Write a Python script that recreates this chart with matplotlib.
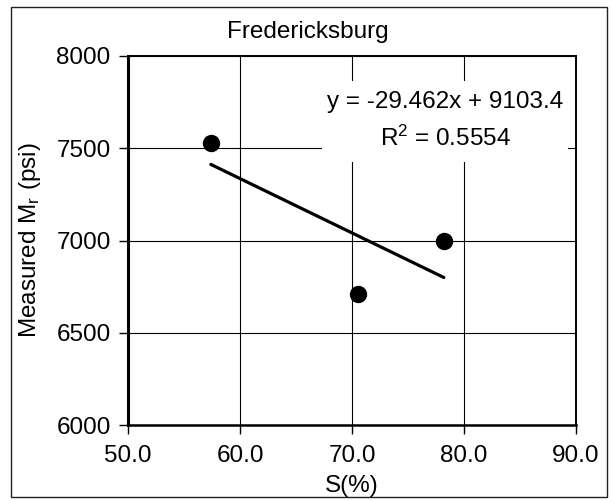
import matplotlib
matplotlib.use("Agg")
import matplotlib.pyplot as plt
from matplotlib.patches import Rectangle
import numpy as np

plt.rcParams["font.family"] = ["Liberation Sans", "DejaVu Sans"]
plt.rcParams["mathtext.fontset"] = "custom"
plt.rcParams["mathtext.rm"] = "Liberation Sans"
plt.rcParams["mathtext.it"] = "Liberation Sans:italic"

# Measured data
saturation = [57.4, 70.5, 78.2]          # S (%)
modulus = [7527, 6710, 6995]             # measured Mr (psi)

# Linear trend line reported on the chart
slope = -29.462
intercept = 9103.4
r_squared = 0.5554

x_ticks = [50.0, 60.0, 70.0, 80.0, 90.0]
y_ticks = [6000, 6500, 7000, 7500, 8000]

title = "Fredericksburg"
x_label = "S(%)"
y_label = "Measured M$_\\mathrm{r}$ (psi)"

W, H = 612, 501
fig = plt.figure(figsize=(W / 100, H / 100), dpi=100)
ax = fig.add_axes([128 / W, 1 - 425 / H, (576 - 128) / W, (425 - 56) / H])

fs = 17.5

ax.set_xlim(x_ticks[0], x_ticks[-1])
ax.set_ylim(y_ticks[0], y_ticks[-1])
ax.set_xticks(x_ticks)
ax.set_yticks(y_ticks)
ax.set_xticklabels([f"{v:.1f}" for v in x_ticks], fontsize=fs)
ax.set_yticklabels([f"{v}" for v in y_ticks], fontsize=fs)
ax.tick_params(direction="out", length=6.5, width=1.0, color="black", pad=6)
ax.tick_params(axis="x", pad=8)

ax.grid(True, color="black", linewidth=0.8, zorder=0)
ax.set_axisbelow(True)

for side, lw in (("left", 2.2), ("bottom", 1.8), ("top", 1.4), ("right", 1.4)):
    ax.spines[side].set_linewidth(lw)
    ax.spines[side].set_color("black")

# Trend line over the data range
xs = np.array([min(saturation), max(saturation)])
ax.plot(xs, slope * xs + intercept, color="black", linewidth=2.3,
        solid_capstyle="round", zorder=3)

# Data points
ax.plot(saturation, modulus, "o", color="black", markersize=11.5, zorder=4)

# Equation label with a white backing that hides the grid behind it
ax.add_patch(Rectangle((0.433, 0.713), 0.549, 0.219, transform=ax.transAxes,
                       facecolor="white", edgecolor="none", zorder=1))
sign = "-" if intercept < 0 else "+"
ax.text((445 - 128) / 448, (425 - 102) / 369,
        f"y = {slope}x {sign} {abs(intercept)}",
        transform=ax.transAxes, ha="center", va="center", fontsize=fs, zorder=5)
ax.text((445 - 128) / 448, (425 - 138) / 369,
        f"R$^2$ = {r_squared}",
        transform=ax.transAxes, ha="center", va="center", fontsize=fs, zorder=5)

fig.text(308 / W, 1 - 32 / H, title, ha="center", va="center", fontsize=fs)
ax.set_xlabel(x_label, fontsize=fs)
ax.xaxis.set_label_coords(0.5, (425 - 475) / 369)
ax.set_ylabel(y_label, fontsize=fs)
ax.yaxis.set_label_coords((30 - 128) / 448, 0.5)
ax.yaxis.label.set_va("center")
ax.xaxis.label.set_va("top")

# Chart border
fig.patches.append(Rectangle((11 / W, 1 - 497 / H), (607 - 11) / W, (497 - 7) / H,
                             transform=fig.transFigure, facecolor="none",
                             edgecolor="#222222", linewidth=1.0))

fig.savefig("out.png", dpi=100)
